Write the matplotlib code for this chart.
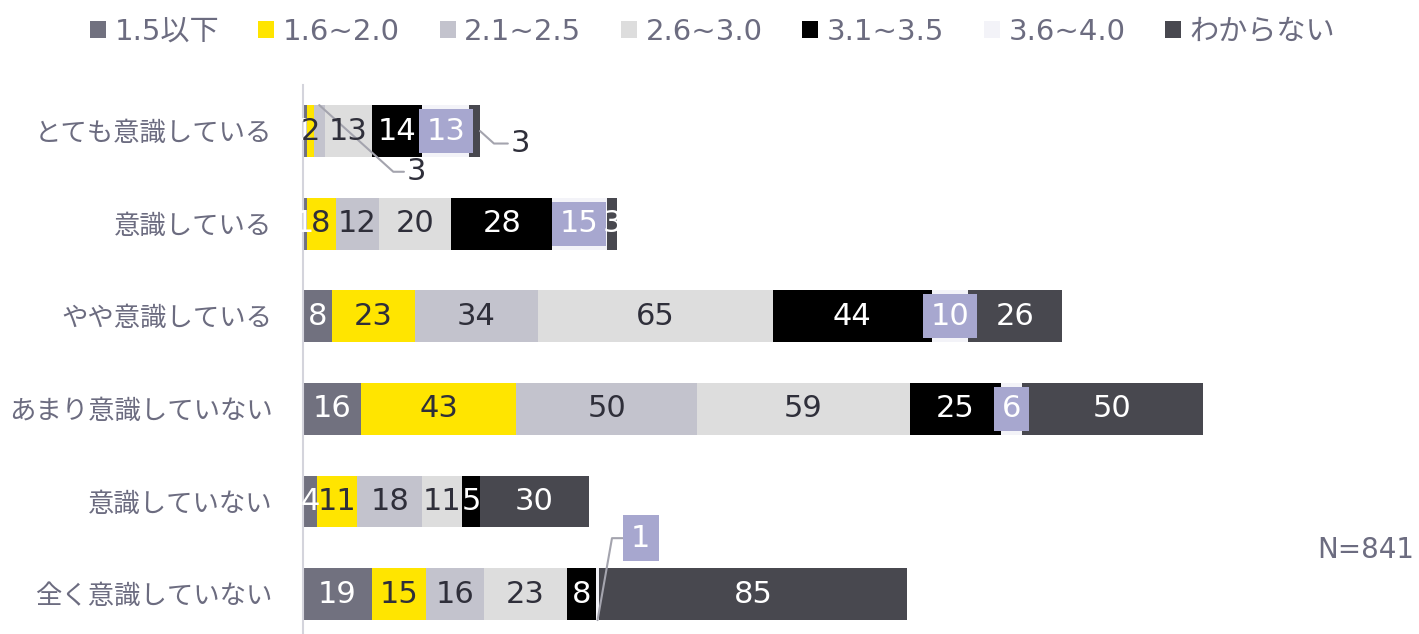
import numpy as np
import matplotlib
matplotlib.use("Agg")
import matplotlib.pyplot as plt

plt.rcParams['font.family'] = ['DejaVu Sans', 'Noto Sans CJK JP']

categories = ['とても意識している', '意識している', 'やや意識している',
              'あまり意識していない', '意識していない', '全く意識していない']
series = ['1.5以下', '1.6~2.0', '2.1~2.5', '2.6~3.0', '3.1~3.5', '3.6~4.0', 'わからない']

v15 = [1, 1, 8, 16, 4, 19]
v20 = [2, 8, 23, 43, 11, 15]
v25 = [3, 12, 34, 50, 18, 16]
v30 = [13, 20, 65, 59, 11, 23]
v35 = [14, 28, 44, 25, 5, 8]
v40 = [13, 15, 10, 6, 0, 1]
vna = [3, 3, 26, 50, 30, 85]
n_total = 841

values = [v15, v20, v25, v30, v35, v40, vna]
colors = ['#71717f', '#ffe500', '#c3c3cd', '#dddddd', '#000000', '#f3f3f8', '#48484f']
label_colors = ['white', '#2f2f3a', '#2f2f3a', '#2f2f3a', 'white', 'white', 'white']
box_color = '#a7a7cf'
text_gray = '#6c6c80'
leader = '#a4a4ae'

fig = plt.figure(figsize=(14.19, 6.34), dpi=100)
ax = fig.add_axes([303 / 1419, 0, 1 - 303 / 1419, 1 - 85 / 634])

y = np.arange(len(categories))
left = np.zeros(len(categories))
bars = []
for name, vals, col in zip(series, values, colors):
    b = ax.barh(y, vals, left=left, height=0.56, color=col, label=name)
    bars.append(b)
    left = left + np.array(vals)

# segments too thin for an inside label get a callout instead
callouts = {(0, 2): (dict(xy_dy=-0.28, off=(70, -48), angB=-42), False),
            (0, 6): (dict(xy_dy=0.0, off=(29, -9), angB=-42), False),
            (5, 5): (dict(xy_dy=0.28, off=(31, 59), angB=80), True)}

left = np.zeros(len(categories))
for s, vals in enumerate(values):
    for r, v in enumerate(vals):
        if v == 0:
            continue
        cx = left[r] + v / 2
        key = (r, s)
        if key in callouts:
            c, boxed = callouts[key]
            xy = (cx, r + c['xy_dy'])
            if s == 6:
                xy = (left[r] + v, r)
            kw = dict(fontsize=22, ha='center', va='center', textcoords='offset points',
                      arrowprops=dict(arrowstyle='-', color=leader, lw=1.5,
                                      connectionstyle=f"angle,angleA=0,angleB={c['angB']},rad=0",
                                      shrinkA=0, shrinkB=0))
            if boxed:
                ax.annotate(str(v), xy=xy, xytext=c['off'], color='white',
                            bbox=dict(boxstyle='square,pad=0.27', fc=box_color, ec='none'), **kw)
            else:
                ax.annotate(str(v), xy=xy, xytext=c['off'], color='#2f2f3a', **kw)
        elif s == 5:
            ax.text(cx, r, str(v), ha='center', va='center', fontsize=22, color='white',
                    bbox=dict(boxstyle='square,pad=0.25', fc=box_color, ec='none'))
        else:
            ax.text(cx, r, str(v), ha='center', va='center', fontsize=22,
                    color=label_colors[s])
    left = left + np.array(vals)

ax.set_xlim(0, 1116 / 3.614)
ax.set_ylim(5.43, -0.497)
ax.set_yticks(y)
ax.set_yticklabels(categories, fontsize=19, color=text_gray)
ax.tick_params(axis='y', length=0, pad=22)
ax.set_xticks([])
for side in ['top', 'right', 'bottom']:
    ax.spines[side].set_visible(False)
ax.spines['left'].set_color('#d4d4dc')
ax.spines['left'].set_linewidth(1.5)

fig.text(1414 / 1419, 1 - 550 / 634, f'N={n_total}', ha='right', va='center',
         fontsize=20, color=text_gray)

fig.legend(handles=bars, labels=series, loc='center', bbox_to_anchor=(0.502, 0.95),
           ncol=7, frameon=False, fontsize=21, handlelength=0.55, handleheight=0.55,
           handletextpad=0.3, columnspacing=1.35, labelcolor=text_gray)

fig.savefig('out.png', dpi=100)
